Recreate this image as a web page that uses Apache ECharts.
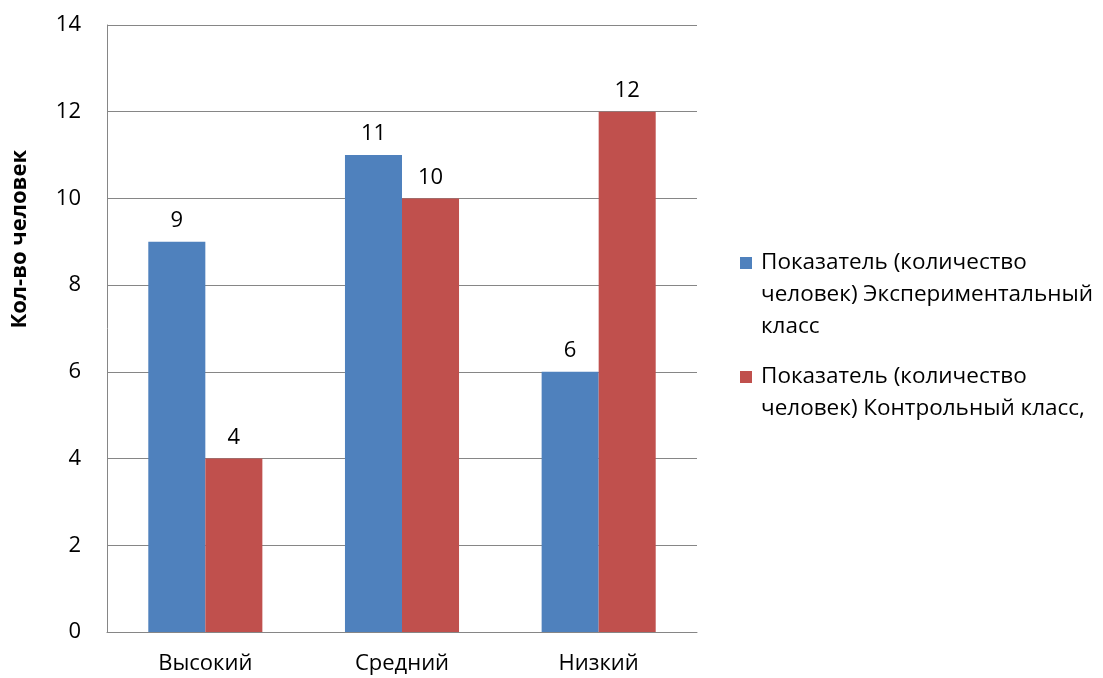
<!DOCTYPE html>
<html><head><meta charset="utf-8">
<script src="https://cdn.jsdelivr.net/npm/echarts@6/dist/echarts.min.js"></script>
<style>html,body{margin:0;padding:0;background:#fff}#c{width:1103px;height:678px}</style>
</head><body><div id="c"></div>
<script>
const categories = ['Высокий', 'Средний', 'Низкий'];
const seriesNames = ['Показатель (количество человек) Экспериментальный класс', 'Показатель (количество человек) Контрольный класс,'];
const experimental = [9, 11, 6];
const control = [4, 10, 12];
const legendLines = {
  'Показатель (количество человек) Экспериментальный класс': ['Показатель (количество', 'человек) Экспериментальный', 'класс'],
  'Показатель (количество человек) Контрольный класс,': ['Показатель (количество', 'человек) Контрольный класс,']
};
const colors = ['#4F81BD', '#C0504D'];
const font = 'Open Sans';
const fs = 22;
const chart = echarts.init(document.getElementById('c'));
const label = {show: true, position: 'top', distance: 10, color: '#000', fontSize: fs, fontFamily: font};
chart.setOption({
  animation: false,
  textStyle: {fontFamily: font},
  grid: {left: 107, right: 406, top: 25, bottom: 46},
  xAxis: {
    type: 'category', data: categories,
    axisLine: {lineStyle: {color: '#868686'}},
    axisTick: {show: false},
    axisLabel: {color: '#000', fontSize: fs, fontFamily: font, margin: 21}
  },
  yAxis: {
    type: 'value', min: 0, max: 14, interval: 2,
    axisLine: {show: true, lineStyle: {color: '#868686'}},
    axisTick: {show: false},
    axisLabel: {color: '#000', fontSize: fs, fontFamily: font, margin: 26},
    splitLine: {lineStyle: {color: '#868686'}}
  },
  legend: {
    orient: 'vertical', left: 730, top: 242,
    icon: 'none', itemWidth: 0, itemHeight: 12, itemGap: 18,
    data: seriesNames,
    formatter: n => {
      const idx = seriesNames.indexOf(n);
      return legendLines[n].map((l, i) => (i === 0 ? '{sq' + idx + '|}' : '{sp|}') + '{t|' + l + '}').join('\n');
    },
    textStyle: {
      color: '#000', fontSize: fs, fontFamily: font, lineHeight: 32,
      rich: {
        sq0: {width: 12, height: 12, backgroundColor: colors[0]},
        sq1: {width: 12, height: 12, backgroundColor: colors[1]},
        sp: {width: 12, height: 12},
        t: {fontSize: 22.5, fontFamily: font, color: '#000', lineHeight: 32, padding: [0, 0, 0, 9]}
      }
    }
  },
  graphic: [{
    type: 'text', left: 9, top: 150, rotation: Math.PI / 2,
    style: {text: 'Кол-во человек', font: 'bold 22px "Open Sans"', fill: '#000'}
  }],
  series: [
    {name: seriesNames[0], type: 'bar', data: experimental, barGap: '0%', barCategoryGap: '42%',
     itemStyle: {color: colors[0]}, label: label},
    {name: seriesNames[1], type: 'bar', data: control,
     itemStyle: {color: colors[1]}, label: label}
  ]
});
</script></body></html>
